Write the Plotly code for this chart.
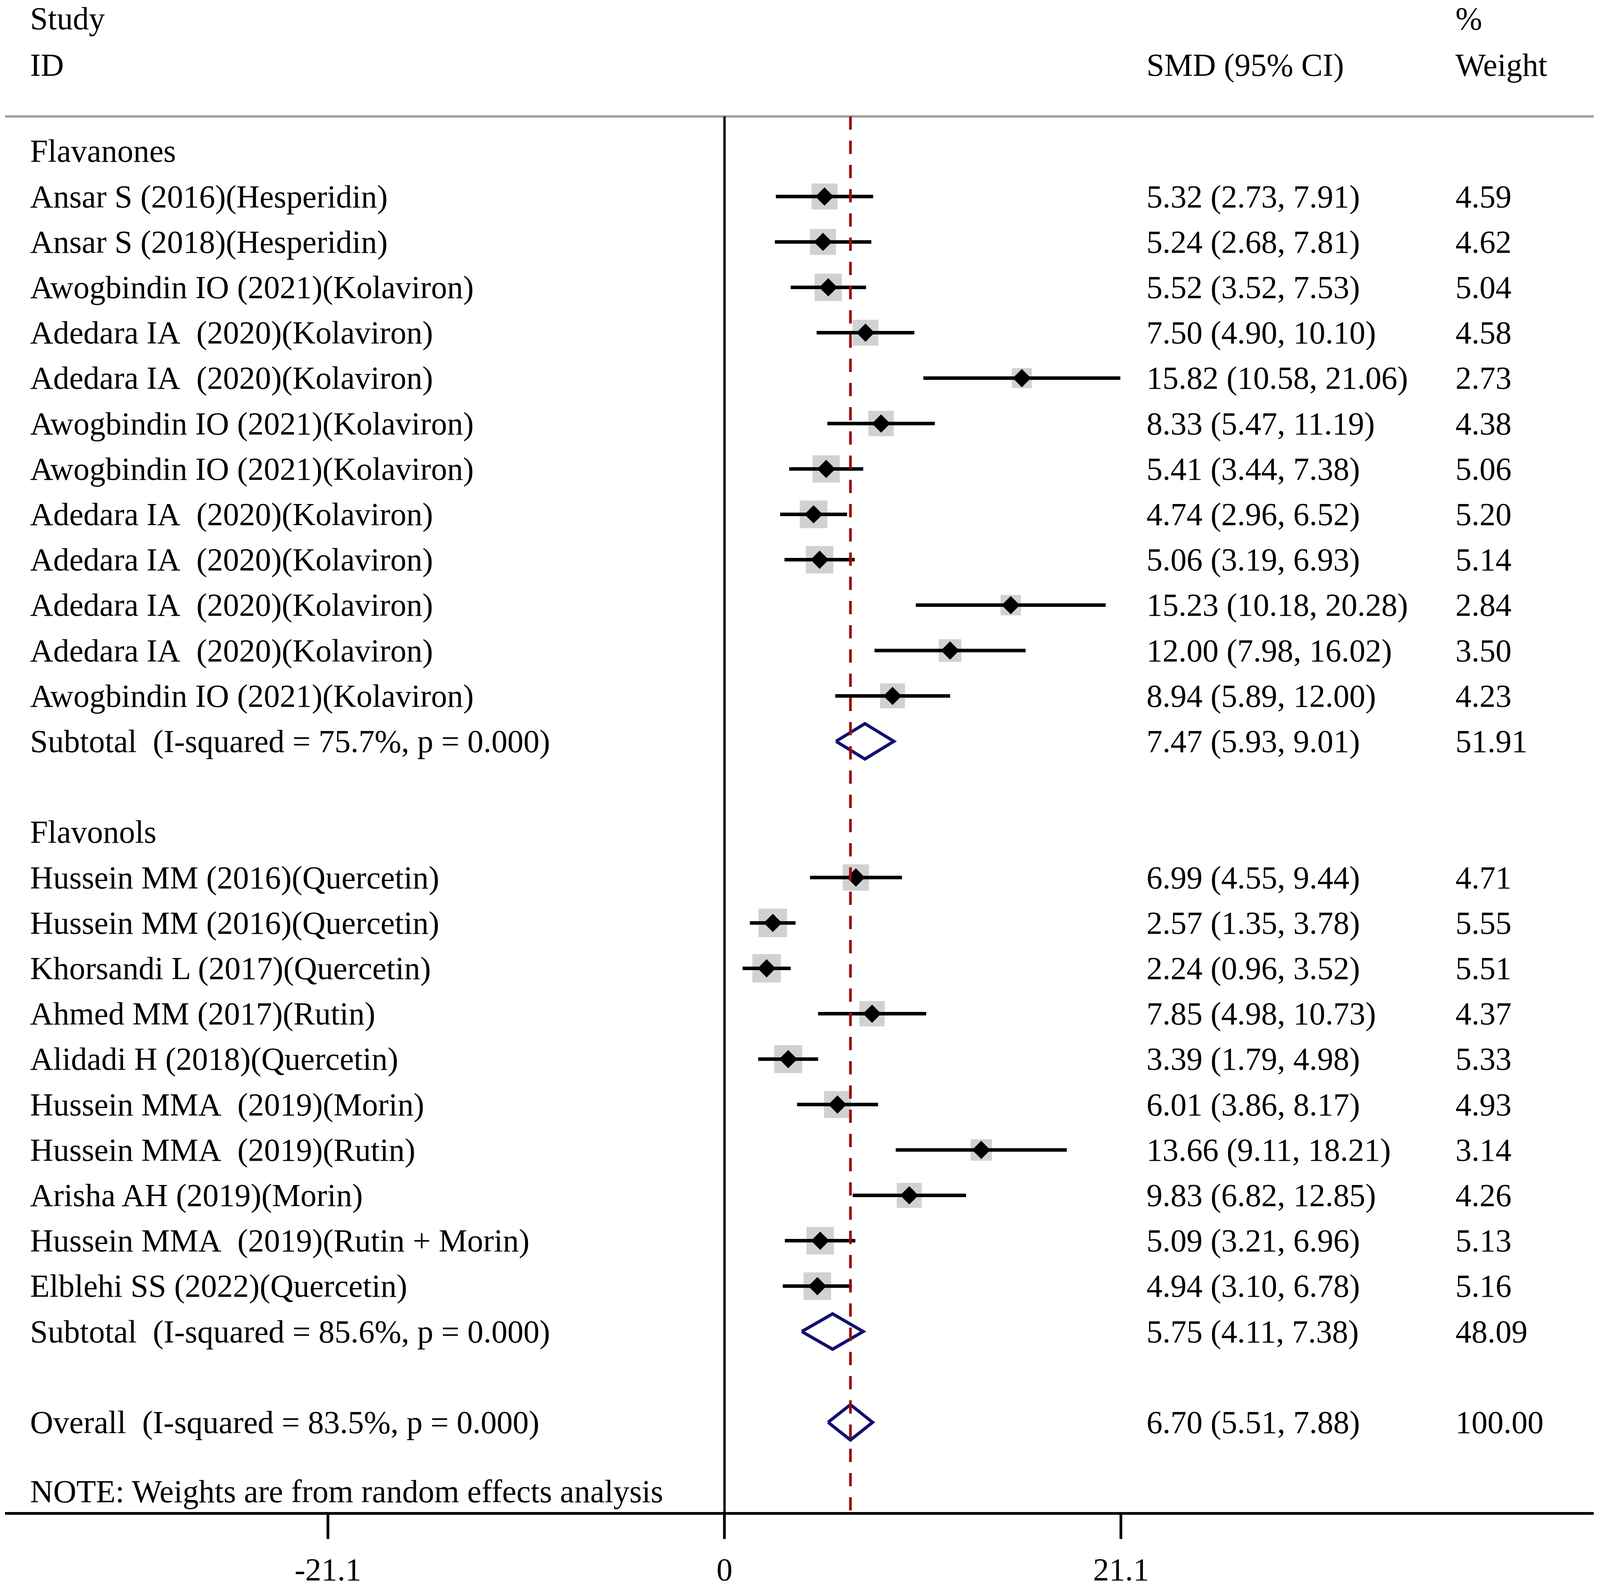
import plotly.graph_objects as go
import math

# ---------------- data ----------------
labels = [
    "Ansar S (2016)(Hesperidin)",
    "Ansar S (2018)(Hesperidin)",
    "Awogbindin IO (2021)(Kolaviron)",
    "Adedara IA\u00a0 (2020)(Kolaviron)",
    "Adedara IA\u00a0 (2020)(Kolaviron)",
    "Awogbindin IO (2021)(Kolaviron)",
    "Awogbindin IO (2021)(Kolaviron)",
    "Adedara IA\u00a0 (2020)(Kolaviron)",
    "Adedara IA\u00a0 (2020)(Kolaviron)",
    "Adedara IA\u00a0 (2020)(Kolaviron)",
    "Adedara IA\u00a0 (2020)(Kolaviron)",
    "Awogbindin IO (2021)(Kolaviron)",
    "Hussein MM (2016)(Quercetin)",
    "Hussein MM (2016)(Quercetin)",
    "Khorsandi L (2017)(Quercetin)",
    "Ahmed MM (2017)(Rutin)",
    "Alidadi H (2018)(Quercetin)",
    "Hussein MMA\u00a0 (2019)(Morin)",
    "Hussein MMA\u00a0 (2019)(Rutin)",
    "Arisha AH (2019)(Morin)",
    "Hussein MMA\u00a0 (2019)(Rutin + Morin)",
    "Elblehi SS (2022)(Quercetin)",
]
study_rows = [1, 2, 3, 4, 5, 6, 7, 8, 9, 10, 11, 12,
              16, 17, 18, 19, 20, 21, 22, 23, 24, 25]
smd = [5.32, 5.24, 5.52, 7.50, 15.82, 8.33, 5.41, 4.74, 5.06, 15.23, 12.00, 8.94,
       6.99, 2.57, 2.24, 7.85, 3.39, 6.01, 13.66, 9.83, 5.09, 4.94]
lower = [2.73, 2.68, 3.52, 4.90, 10.58, 5.47, 3.44, 2.96, 3.19, 10.18, 7.98, 5.89,
         4.55, 1.35, 0.96, 4.98, 1.79, 3.86, 9.11, 6.82, 3.21, 3.10]
upper = [7.91, 7.81, 7.53, 10.10, 21.06, 11.19, 7.38, 6.52, 6.93, 20.28, 16.02, 12.00,
         9.44, 3.78, 3.52, 10.73, 4.98, 8.17, 18.21, 12.85, 6.96, 6.78]
weight = [4.59, 4.62, 5.04, 4.58, 2.73, 4.38, 5.06, 5.20, 5.14, 2.84, 3.50, 4.23,
          4.71, 5.55, 5.51, 4.37, 5.33, 4.93, 3.14, 4.26, 5.13, 5.16]

group_labels = ["Flavanones", "Flavonols"]
group_rows = [0, 15]

pooled_labels = ["Subtotal\u00a0 (I-squared = 75.7%, p = 0.000)",
                 "Subtotal\u00a0 (I-squared = 85.6%, p = 0.000)",
                 "Overall\u00a0 (I-squared = 83.5%, p = 0.000)"]
pooled_rows = [13, 26, 28]
pooled_est = [7.47, 5.75, 6.70]
pooled_lo = [5.93, 4.11, 5.51]
pooled_hi = [9.01, 7.38, 7.88]
pooled_w = ["51.91", "48.09", "100.00"]

overall_est = 6.70
tick_vals = [-21.1, 0, 21.1]
tick_text = ["-21.1", "0", "21.1"]
note_text = "NOTE: Weights are from random effects analysis"

# ---------------- style ----------------
H = 4067
FONT = "Liberation Serif"
FS = 82
x_label = -37.0
x_smd = 22.42
x_wt = 38.86
y_top_line = -0.764
y_bottom = 29.976
hd1, hd2 = -2.92, -1.90
note_row = 29.52

fig = go.Figure()

# grey weight boxes (area proportional to weight)
fig.add_trace(go.Scatter(
    x=smd, y=study_rows, mode="markers",
    marker=dict(symbol="square", color="#bdbdbd",
                size=[31.0 * math.sqrt(w) for w in weight], line=dict(width=0)),
    hoverinfo="skip", showlegend=False))

# CI lines
cx, cy = [], []
for lo, hi, r in zip(lower, upper, study_rows):
    cx += [lo, hi, None]
    cy += [r, r, None]
fig.add_trace(go.Scatter(x=cx, y=cy, mode="lines",
                         line=dict(color="black", width=9),
                         hoverinfo="skip", showlegend=False))

# point estimates
fig.add_trace(go.Scatter(
    x=smd, y=study_rows, mode="markers",
    marker=dict(symbol="diamond", color="black", size=36, line=dict(width=0)),
    hoverinfo="skip", showlegend=False))

# pooled diamonds
half = 0.39
for e, lo, hi, r in zip(pooled_est, pooled_lo, pooled_hi, pooled_rows):
    fig.add_trace(go.Scatter(
        x=[lo, e, hi, e, lo], y=[r, r - half, r, r + half, r], mode="lines",
        line=dict(color="#10106e", width=8), hoverinfo="skip", showlegend=False))

# reference lines
fig.add_shape(type="line", xref="paper", yref="y", x0=0, x1=1,
              y0=y_top_line, y1=y_top_line, line=dict(color="#a0a0a0", width=6))
fig.add_shape(type="line", xref="x", yref="y", x0=0, x1=0,
              y0=y_top_line, y1=y_bottom, line=dict(color="black", width=6))
fig.add_shape(type="line", xref="x", yref="y", x0=overall_est, x1=overall_est,
              y0=y_top_line, y1=y_bottom,
              line=dict(color="#9a1010", width=7, dash="34px,28px"))

def ann(x, y, text):
    fig.add_annotation(x=x, y=y, xref="x", yref="y", text=text, showarrow=False,
                       xanchor="left", yanchor="middle",
                       font=dict(family=FONT, size=FS, color="black"))

# headers
ann(x_label, hd1, "Study")
ann(x_label, hd2, "ID")
ann(x_smd, hd2, "SMD (95% CI)")
ann(x_wt, hd1, "%")
ann(x_wt, hd2, "Weight")

for g, r in zip(group_labels, group_rows):
    ann(x_label, r, g)

for lab, r, e, lo, hi, w in zip(labels, study_rows, smd, lower, upper, weight):
    ann(x_label, r, lab)
    ann(x_smd, r, f"{e:.2f} ({lo:.2f}, {hi:.2f})")
    ann(x_wt, r, f"{w:.2f}")

for lab, r, e, lo, hi, w in zip(pooled_labels, pooled_rows, pooled_est, pooled_lo, pooled_hi, pooled_w):
    ann(x_label, r, lab)
    ann(x_smd, r, f"{e:.2f} ({lo:.2f}, {hi:.2f})")
    ann(x_wt, r, w)

ann(x_label, note_row, note_text)

# axis ranges (reference geometry: 4550 px wide, zero at 2060 px, 53.45 px per unit)
Wref = 4550
x0_px, px_per_unit = 2060, 53.45
ml, mr, mb = 14, 18, 197
xmin = (ml - x0_px) / px_per_unit
xmax = (Wref - mr - x0_px) / px_per_unit
row0_px, row_px = 386.8, 116.2
ymin = (0 - row0_px) / row_px
ymax = (H - mb - row0_px) / row_px

fig.update_layout(
    autosize=True,
    margin=dict(l=13, r=16, t=0, b=mb, pad=0),
    paper_bgcolor="white", plot_bgcolor="white",
    showlegend=False,
    xaxis=dict(range=[xmin, xmax], showgrid=False, zeroline=False,
               showline=True, linecolor="black", linewidth=7,
               tickmode="array", tickvals=tick_vals, ticktext=tick_text,
               ticks="outside", ticklen=62, tickwidth=7, tickcolor="black",
               tickfont=dict(family=FONT, size=FS, color="black"),
               ticklabelstandoff=8, fixedrange=True),
    yaxis=dict(range=[ymax, ymin], showgrid=False, zeroline=False,
               showline=False, showticklabels=False, ticks="", fixedrange=True),
)

# the figure fills the whole browser window
fit_js = (
    "document.documentElement.style.margin='0';"
    "document.body.style.margin='0';"
    "document.documentElement.style.overflow='hidden';"
    "document.body.style.overflow='hidden';"
)

fig.write_html("out.html", default_width="100vw", default_height="100vh",
               post_script=fit_js,
               config={"displayModeBar": False, "staticPlot": True})
